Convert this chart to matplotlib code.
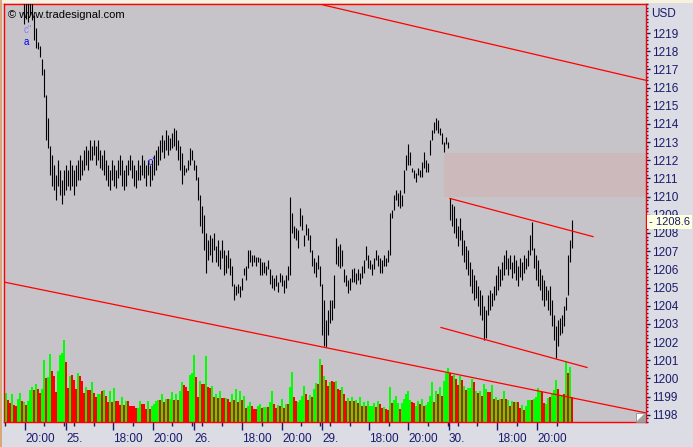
import matplotlib
matplotlib.use("Agg")
import matplotlib.pyplot as plt
from matplotlib.patches import Rectangle, Polygon
from matplotlib.ticker import MultipleLocator
import numpy as np

plt.rcParams['font.family'] = ['Liberation Sans', 'DejaVu Sans']

# bar highs / lows (USD), one per bar
high = [1221.6, 1221.8, 1221.5, 1221.9, 1221.7, 1221.4, 1221.6, 1221.3, 1221.5, 1221.0,
        1221.2, 1220.9, 1221.1, 1220.8, 1220.0, 1219.3, 1218.5, 1218.3, 1217.6, 1217.0,
        1215.6, 1214.3, 1212.8, 1212.3, 1211.75, 1211.2, 1212.0, 1211.45, 1210.9, 1211.45,
        1211.75, 1211.45, 1212.0, 1211.75, 1211.45, 1211.75, 1212.0, 1212.3, 1212.0, 1212.55,
        1212.8, 1212.55, 1213.1, 1212.8, 1213.1, 1212.8, 1213.1, 1212.55, 1212.3, 1212.55,
        1212.0, 1211.75, 1211.45, 1212.0, 1211.75, 1211.45, 1212.0, 1212.3, 1212.0, 1211.45,
        1211.75, 1212.0, 1212.3, 1212.0, 1211.75, 1211.45, 1212.0, 1211.75, 1212.3, 1212.0,
        1211.75, 1212.0, 1211.75, 1212.0, 1212.3, 1212.55, 1212.8, 1213.1, 1213.4, 1213.1,
        1213.65, 1213.4, 1213.2, 1213.5, 1213.76, 1213.65, 1213.1, 1212.8, 1212.4, 1211.75,
        1211.6, 1212.0, 1212.7, 1212.55, 1212.0, 1211.75, 1211.1, 1210.1, 1209.5, 1209.0,
        1208.0, 1207.6, 1207.9, 1207.7, 1208.0, 1207.3, 1207.6, 1207.05, 1207.6, 1207.05,
        1206.8, 1207.05, 1206.6, 1206.2, 1205.2, 1205.1, 1205.2, 1205.1, 1205.5, 1206.1,
        1206.2, 1207.05, 1207.05, 1206.8, 1206.8, 1206.7, 1206.7, 1206.6, 1206.4, 1206.4,
        1206.2, 1206.5, 1206.0, 1205.7, 1205.5, 1205.7, 1205.3, 1205.8, 1205.7, 1205.4,
        1205.7, 1206.2, 1210.0, 1209.1, 1208.4, 1208.3, 1208.15, 1209.4, 1209.0, 1207.9,
        1208.5, 1208.3, 1207.9, 1207.05, 1206.6, 1206.4, 1206.8, 1206.2, 1205.2, 1204.3,
        1203.2, 1203.75, 1204.3, 1204.3, 1205.7, 1207.7, 1207.3, 1207.4, 1207.05, 1206.0,
        1205.7, 1205.4, 1205.5, 1206.0, 1206.1, 1205.8, 1206.0, 1205.8, 1206.2, 1206.5,
        1207.3, 1206.8, 1206.5, 1206.3, 1206.6, 1207.05, 1206.8, 1206.6, 1206.5, 1206.8,
        1206.6, 1207.05, 1209.1, 1209.25, 1210.1, 1210.35, 1210.2, 1210.35, 1210.1, 1211.45,
        1212.3, 1212.9, 1212.45, 1211.6, 1211.45, 1211.3, 1211.6, 1211.45, 1211.9, 1212.45,
        1212.0, 1211.85, 1213.1, 1213.65, 1214.1, 1214.3, 1214.2, 1213.8, 1213.5, 1213.0,
        1213.3, 1213.0, 1209.9, 1209.6, 1209.5, 1208.8, 1208.4, 1208.8, 1208.15, 1207.6,
        1207.3, 1207.05, 1206.4, 1206.0, 1205.7, 1205.4, 1205.1, 1204.85, 1204.6, 1204.0,
        1203.75, 1204.6, 1204.85, 1204.7, 1205.1, 1205.7, 1206.2, 1206.0, 1206.4, 1206.8,
        1207.05, 1206.6, 1206.8, 1206.4, 1206.8, 1206.5, 1206.2, 1206.6, 1206.4, 1206.8,
        1206.6, 1207.05, 1207.9, 1208.6, 1207.2, 1206.8, 1206.5, 1206.0, 1205.7, 1205.4,
        1205.1, 1204.85, 1205.1, 1204.3, 1203.5, 1202.9, 1203.2, 1203.3, 1203.5, 1204.0,
        1204.5, 1206.8, 1207.6, 1208.7]

low = [1220.9, 1221.0, 1220.8, 1221.1, 1220.9, 1220.7, 1220.9, 1220.7, 1220.8, 1219.5,
       1219.8, 1219.6, 1220.0, 1219.7, 1218.6, 1218.2, 1218.1, 1217.7, 1216.7, 1215.5,
       1213.1, 1212.7, 1211.2, 1210.6, 1210.35, 1209.8, 1210.6, 1210.1, 1209.6, 1210.1,
       1210.35, 1210.6, 1210.35, 1210.6, 1210.1, 1210.6, 1210.9, 1210.9, 1211.2, 1211.45,
       1211.75, 1211.45, 1212.0, 1212.0, 1212.3, 1211.75, 1212.0, 1211.6, 1211.45, 1211.2,
       1210.9, 1210.6, 1210.35, 1210.9, 1210.6, 1210.5, 1211.0, 1211.2, 1210.6, 1210.35,
       1210.6, 1211.2, 1211.45, 1211.0, 1210.6, 1210.5, 1210.9, 1210.9, 1211.2, 1211.0,
       1210.6, 1211.2, 1210.6, 1210.9, 1211.2, 1211.45, 1211.75, 1212.0, 1212.45, 1212.1,
       1212.55, 1212.3, 1212.55, 1212.7, 1212.8, 1212.55, 1212.0, 1211.45, 1210.7, 1211.2,
       1211.35, 1211.45, 1211.75, 1212.0, 1211.45, 1210.9, 1209.8, 1208.4, 1208.0, 1207.05,
       1205.8, 1206.5, 1206.8, 1206.4, 1207.05, 1206.4, 1206.2, 1206.0, 1206.6, 1205.7,
       1205.8, 1206.1, 1205.7, 1205.1, 1204.3, 1204.6, 1204.7, 1204.5, 1204.85, 1205.7,
       1205.4, 1206.1, 1206.4, 1206.2, 1206.4, 1206.2, 1206.4, 1205.7, 1205.7, 1205.8,
       1205.7, 1206.0, 1205.2, 1205.0, 1204.85, 1205.1, 1204.75, 1205.3, 1205.1, 1204.7,
       1205.0, 1205.4, 1205.7, 1208.0, 1207.7, 1207.6, 1207.2, 1208.4, 1208.15, 1207.3,
       1207.9, 1207.6, 1206.95, 1206.2, 1205.8, 1205.6, 1206.0, 1205.1, 1202.4, 1201.8,
       1201.7, 1202.4, 1203.05, 1203.2, 1203.9, 1206.3, 1206.2, 1206.1, 1206.2, 1205.3,
       1205.1, 1204.7, 1204.85, 1205.3, 1205.3, 1205.2, 1205.4, 1205.2, 1205.5, 1205.8,
       1206.5, 1206.1, 1206.0, 1205.7, 1206.0, 1206.5, 1206.2, 1205.8, 1205.8, 1206.2,
       1206.2, 1206.4, 1206.8, 1208.8, 1209.25, 1209.8, 1209.5, 1209.4, 1209.5, 1210.2,
       1211.45, 1211.75, 1211.75, 1211.35, 1211.0, 1210.8, 1211.2, 1211.1, 1211.1, 1211.6,
       1211.35, 1211.35, 1212.3, 1213.1, 1213.5, 1213.65, 1213.5, 1213.4, 1212.9, 1212.45,
       1212.9, 1212.7, 1208.7, 1208.4, 1208.0, 1207.7, 1207.3, 1207.6, 1206.8, 1206.4,
       1206.0, 1205.7, 1205.1, 1204.7, 1204.3, 1204.4, 1204.0, 1203.5, 1203.2, 1202.1,
       1202.2, 1203.5, 1203.75, 1204.0, 1204.3, 1204.6, 1204.85, 1205.1, 1205.4, 1205.7,
       1206.0, 1205.7, 1206.0, 1205.5, 1205.8, 1205.4, 1205.1, 1205.6, 1205.4, 1205.8,
       1206.0, 1206.2, 1206.8, 1207.05, 1206.1, 1205.4, 1205.1, 1204.85, 1204.3, 1204.0,
       1204.3, 1203.75, 1203.5, 1202.9, 1202.1, 1201.1, 1201.8, 1202.4, 1202.5, 1202.9,
       1203.75, 1204.6, 1206.4, 1207.2]

volume = [29, 22, 19, 28, 17, 16, 23, 29, 21, 20,
          17, 21, 32, 35, 32, 38, 33, 29, 33, 62,
          44, 45, 68, 51, 46, 30, 51, 67, 69, 82,
          60, 34, 46, 47, 42, 33, 49, 46, 41, 29,
          35, 32, 32, 40, 29, 25, 28, 28, 31, 32,
          26, 20, 31, 20, 34, 21, 21, 17,
          25, 17, 21, 21, 16, 16, 16, 14, 14, 21,
          18, 18, 13, 21, 13, 16, 18, 21, 22, 22,
          28, 20, 23, 23, 23, 30, 22, 28, 22, 31,
          40, 37, 35, 31, 47, 49, 67, 45, 25, 41,
          38, 38, 66, 35, 34, 36, 25, 28, 24, 31,
          24, 24, 24, 23, 20, 28, 22, 33, 20, 31,
          22, 26, 14, 16, 20, 16, 13, 13, 16, 18,
          14, 15, 15, 15, 20, 31, 18, 14, 17, 16,
          23, 14, 18, 18, 35, 50, 25, 21, 20, 22,
          26, 36, 28, 22, 27, 25, 33, 39, 38,
          63, 57, 46, 42, 36, 40, 41, 40, 41, 33,
          32, 35, 28, 21, 24, 21, 25, 21, 22, 19, 25,
          16, 20, 16, 21, 16, 16, 19, 15, 21, 18,
          14, 15, 13, 12, 35, 19, 22, 26, 19, 13,
          19, 23, 28, 31, 22, 20, 19, 16, 21, 18,
          23, 16, 17, 20, 26, 40, 20, 31, 28, 35,
          26, 41, 49, 54, 49, 46, 47, 43, 37, 46,
          42, 36, 32, 34, 34, 43, 40, 31, 29, 31,
          26, 38, 33, 30, 30, 37, 23, 25, 22, 23,
          23, 31, 23, 22, 16, 21, 20, 20, 20, 14,
          17, 12, 16, 22, 22, 22, 23, 25, 34, 30,
          30, 19, 18, 24, 25, 28, 32, 42, 33, 27,
          27, 28, 61, 49, 55, 25]

# g = up bar, r = down bar
vol_dir = "".join([
    "grrgrrggrg", "rgggrgrrgg", "rggrrrgggg", "rrgrrrgrrr", "grrgrrggrg", "rrgrgrrr",
    "grgrrrrrgg", "rrrgrggggr", "grgrggrgrg", "grrrgggrrg", "rrgrrgrgrg", "rrgrrgrgrg",
    "rgrggrrrgg", "rggrggrrgr", "grgrggrrgg", "ggrrgrggr", "grgrrgrrgr", "rgrrgrgrgrg",
    "rgrggggrgr", "rgrrgrgggr", "gggggrrggr", "grggggrgrg", "rgggrrgrrg",
    "rgrgggrgrg", "rggrrgrgrg", "rgrgrgrgrr", "grgggrgggg", "rrggrgggrg", "grgrgr"])

tick_pos = [9.5, 30, 53.5, 73.5, 94, 118, 138, 158, 181.5, 201, 221.5, 245.5, 265.5]
tick_labels = ['20:00', '25.', '18:00', '20:00', '26.', '18:00', '20:00', '29.',
               '18:00', '20:00', '30.', '18:00', '20:00']
hour_ticks = [-0.5, 19, 29, 34, 44, 63.5, 83, 93, 98, 108, 128, 147.5, 157, 162, 172,
              191.5, 211, 221, 226, 235.5, 255.5, 275.5]
price_ticks = list(range(1198, 1220))

# trend lines: (bar, price) -> (bar, price)
trend_lines = [((158.5, 1220.55), (320, 1216.4)),
               ((-1, 1205.3), (320, 1198.1)),
               ((222, 1209.9), (293.5, 1207.8)),
               ((217.5, 1202.8), (290.5, 1200.6))]
zone_start, zone_low, zone_high = 219, 1210.0, 1212.4
last_price = 1208.6

navy = '#1a1a6a'
W, H = 693, 447
fig = plt.figure(figsize=(W / 100, H / 100), dpi=100, facecolor='#dcdce4')
pos = [4 / W, 25 / H, 642 / W, 418 / H]

# volume underneath
axv = fig.add_axes(pos, facecolor='#c6c4c8')
x = np.arange(len(high))
cols = ['#00ff00' if c == 'g' else '#ff0000' for c in vol_dir]
axv.bar(x, volume, width=1.0, color=cols, linewidth=0)
axv.set_xlim(-1, 320)
axv.set_ylim(0, 418)
axv.set_xticks([])
axv.set_yticks([])
for s in axv.spines.values():
    s.set_visible(False)

# price on top
ax = fig.add_axes(pos, facecolor='none')
ax.add_patch(Rectangle((zone_start, zone_low), 320 - zone_start, zone_high - zone_low,
                       facecolor='#cbb9bc', edgecolor='none', zorder=0))
ax.vlines(x, low, high, color='black', lw=0.8, zorder=3)
for (x0, y0), (x1, y1) in trend_lines:
    ax.plot([x0, x1], [y0, y1], color='#ff0000', lw=0.9, zorder=4)

ax.set_xlim(-1, 320)
ax.set_ylim(1197.6, 1220.6)
for s in ax.spines.values():
    s.set_color('#ff0000')
    s.set_linewidth(1.0)

ax.yaxis.tick_right()
ax.set_yticks(price_ticks)
ax.set_yticklabels([str(p) for p in price_ticks])
ax.yaxis.set_minor_locator(MultipleLocator(0.2))
ax.tick_params(axis='y', which='major', length=3, width=1, color=navy,
               labelsize=8.5, labelcolor=navy, pad=1.5)
ax.tick_params(axis='y', which='minor', length=1.5, width=1, color=navy)

ax.set_xticks(tick_pos)
ax.set_xticklabels(tick_labels, ha='left')
ax.set_xticks(hour_ticks, minor=True)
ax.tick_params(axis='x', which='major', length=6, width=1, color=navy,
               labelsize=8.5, labelcolor=navy, pad=2)
ax.tick_params(axis='x', which='minor', length=3, width=1, color=navy)

# labels on chart
ax.text(9, 1219.15, "c''", color='#8080ff', fontsize=7, ha='left', va='center', zorder=5)
ax.text(9, 1218.5, "a", color='#0000ff', fontsize=7, ha='left', va='center', zorder=5)
ax.text(70.5, 1211.9, "c'", color='#2020ff', fontsize=7.5, ha='left', va='center', zorder=5)
fig.text(8 / W, 1 - 15 / H, '\u00a9 www.tradesignal.com', fontsize=8, color='black',
         ha='left', va='center')
fig.text(651 / W, 1 - 14 / H, 'USD', fontsize=8.5, color=navy, ha='left', va='center')

ax.annotate('- %.1f' % last_price, xy=(1, last_price), xycoords=('axes fraction', 'data'),
            xytext=(2, 0), textcoords='offset points', ha='left', va='center',
            fontsize=8, color=navy, zorder=10, annotation_clip=False,
            bbox=dict(boxstyle='square,pad=0.2', facecolor='#ffffe1', edgecolor='none'))

# window decorations
fig.patches.append(Rectangle((0, 1 - 3 / H), 1, 3 / H, transform=fig.transFigure,
                             facecolor='#f6f2de', edgecolor='none'))
fig.patches.append(Rectangle((0, 0), 2 / W, 1, transform=fig.transFigure,
                             facecolor='#d8a878', edgecolor='none'))
fig.patches.append(Rectangle((636 / W, 25 / H), 9 / W, 9 / H, transform=fig.transFigure,
                             facecolor='white', edgecolor='#808080', lw=0.5))
fig.patches.append(Polygon([(636 / W, 25 / H), (645 / W, 25 / H), (645 / W, 34 / H)],
                           closed=True, transform=fig.transFigure,
                           facecolor='#a0a0a0', edgecolor='none'))

fig.savefig('out.png', dpi=100, facecolor=fig.get_facecolor())
